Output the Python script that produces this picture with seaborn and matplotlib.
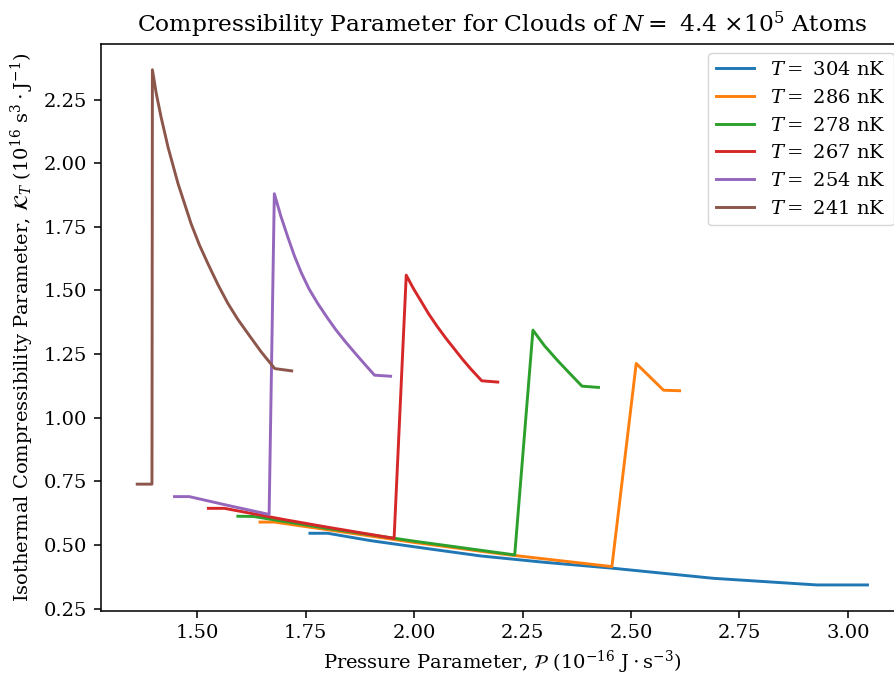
import matplotlib
matplotlib.use("Agg")
import matplotlib.pyplot as plt
import seaborn as sns
import pandas as pd

# ---- data ----
temps = ["304", "286", "278", "267", "254", "241"]

P_304 = [1.760, 1.801, 1.900, 2.038, 2.153, 2.300, 2.456, 2.690, 2.928, 3.045]
K_304 = [0.546, 0.546, 0.517, 0.484, 0.457, 0.432, 0.409, 0.369, 0.343, 0.343]

P_286 = [1.645, 1.678, 1.800, 2.000, 2.200, 2.456, 2.512, 2.545, 2.575, 2.612]
K_286 = [0.590, 0.590, 0.560, 0.510, 0.465, 0.415, 1.213, 1.158, 1.108, 1.106]

P_278 = [1.594, 1.630, 1.800, 2.000, 2.232, 2.274, 2.300, 2.330, 2.360, 2.387, 2.425]
K_278 = [0.613, 0.612, 0.565, 0.515, 0.461, 1.344, 1.284, 1.226, 1.172, 1.124, 1.119]

P_267 = [1.526, 1.563, 1.700, 1.800, 1.954, 1.982, 1.998, 2.015, 2.034, 2.054, 2.073,
         2.092, 2.111, 2.130, 2.156, 2.193]
K_267 = [0.644, 0.644, 0.600, 0.570, 0.526, 1.560, 1.509, 1.461, 1.407, 1.357, 1.313,
         1.272, 1.231, 1.193, 1.145, 1.140]

P_254 = [1.448, 1.482, 1.580, 1.666, 1.678, 1.693, 1.709, 1.724, 1.740, 1.758, 1.778,
         1.800, 1.820, 1.843, 1.866, 1.888, 1.909, 1.946]
K_254 = [0.690, 0.690, 0.652, 0.620, 1.880, 1.792, 1.710, 1.637, 1.570, 1.506, 1.449,
         1.393, 1.345, 1.296, 1.250, 1.207, 1.167, 1.163]

P_241 = [1.362, 1.396, 1.397, 1.406, 1.417, 1.433, 1.456, 1.486, 1.505, 1.525, 1.548,
         1.571, 1.594, 1.617, 1.648, 1.679, 1.718]
K_241 = [0.739, 0.739, 2.367, 2.273, 2.181, 2.063, 1.920, 1.763, 1.680, 1.605, 1.523,
         1.449, 1.386, 1.331, 1.258, 1.193, 1.184]

series_P = [P_304, P_286, P_278, P_267, P_254, P_241]
series_K = [K_304, K_286, K_278, K_267, K_254, K_241]

rows = []
for t, ps, ks in zip(temps, series_P, series_K):
    lab = r"$T = $ " + t + " nK"
    for i, (p, k) in enumerate(zip(ps, ks)):
        rows.append({"P": p, "K": k, "T": lab, "idx": i})
df = pd.DataFrame(rows)

# ---- style ----
S = 1.4
plt.rcParams.update({
    "font.family": ["DejaVu Serif"],
    "mathtext.fontset": "dejavuserif",
    "font.size": 10 * S,
    "axes.linewidth": 0.8 * S,
    "xtick.major.size": 3.5 * S,
    "ytick.major.size": 3.5 * S,
    "xtick.major.width": 0.8 * S,
    "ytick.major.width": 0.8 * S,
    "xtick.major.pad": 3.5 * S,
    "ytick.major.pad": 3.5 * S,
    "lines.linewidth": 1.5 * S,
})

fig = plt.figure(figsize=(8.95, 6.75), dpi=100)
ax = fig.add_axes([100.7 / 895, (675 - 610.7) / 675, (904 - 100.7) / 895, (610.7 - 44) / 675])

palette = sns.color_palette("tab10", 6)
sns.lineplot(data=df, x="P", y="K", hue="T", sort=False, estimator=None,
             palette=palette, linewidth=1.5 * S, ax=ax, legend=True)

ax.set_xticks([1.5, 1.75, 2.0, 2.25, 2.5, 2.75, 3.0])
ax.set_yticks([0.25, 0.5, 0.75, 1.0, 1.25, 1.5, 1.75, 2.0, 2.25])
ax.tick_params(labelsize=10 * S)

ax.set_xlabel(r"Pressure Parameter, $\mathcal{P}$ $(10^{-16}\ \mathrm{J} \cdot \mathrm{s}^{-3})$",
              fontsize=10 * S, labelpad=3.5 * S)
ax.set_ylabel(r"Isothermal Compressibility Parameter, $\mathcal{K}_T$ $(10^{16}\ \mathrm{s}^3 \cdot \mathrm{J}^{-1})$",
              fontsize=10 * S, labelpad=4 * S)
ax.set_title(r"Compressibility Parameter for Clouds of $N = $ 4.4 $\times 10^5$ Atoms",
             fontsize=12 * S, pad=6 * S)

handles, labels = ax.get_legend_handles_labels()
ax.legend(handles, labels, loc="upper right", bbox_to_anchor=(893.5 / 895, 1 - 53.3 / 675),
          bbox_transform=fig.transFigure, borderaxespad=0, fontsize=10 * S, title=None)

fig.savefig("out.png", dpi=100)
